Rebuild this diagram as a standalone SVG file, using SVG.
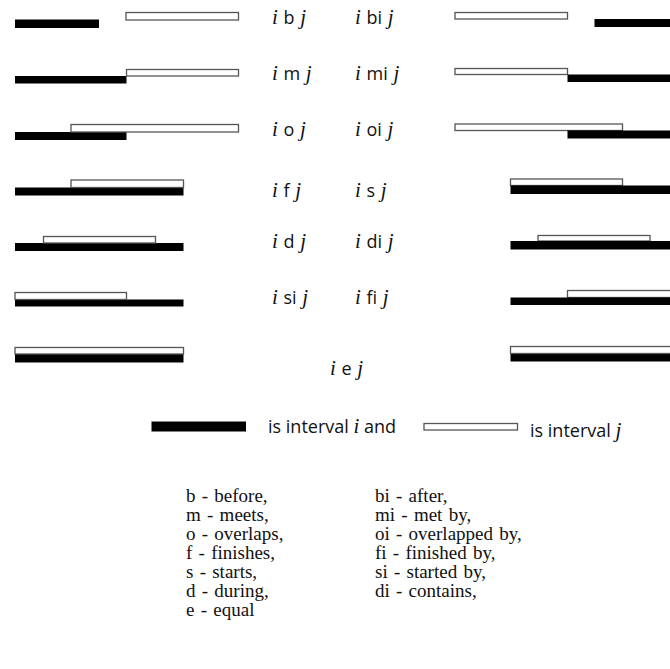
<svg xmlns="http://www.w3.org/2000/svg" width="670" height="669" viewBox="0 0 670 669">
<style>
.i{fill:#000}
.j{fill:#fff;stroke:#555;stroke-width:1.3}
.lab{font-family:"Open Sans","Liberation Sans",sans-serif;font-size:18px;fill:#111;word-spacing:1px}
.it{font-family:"Liberation Serif",serif;font-style:italic;font-size:21px}
.leg{font-family:"Liberation Serif",serif;font-size:19px;fill:#111;word-spacing:1.5px}
</style>
<rect width="670" height="669" fill="#fff"/>
<g id="rel-b">
<rect class="i" x="15" y="19.5" width="84" height="8.5"/>
<rect class="j" x="126" y="12.5" width="112.5" height="7.5"/>
<text class="lab" x="272" y="24"><tspan class="it">i</tspan> b <tspan class="it">j</tspan></text>
</g>
<g id="rel-m">
<rect class="i" x="15" y="76" width="111.5" height="7.5"/>
<rect class="j" x="126.5" y="69.5" width="112" height="6.5"/>
<text class="lab" x="272" y="80"><tspan class="it">i</tspan> m <tspan class="it">j</tspan></text>
</g>
<g id="rel-o">
<rect class="i" x="15" y="132" width="111.5" height="8"/>
<rect class="j" x="71" y="124.5" width="167.5" height="7.5"/>
<text class="lab" x="272" y="136"><tspan class="it">i</tspan> o <tspan class="it">j</tspan></text>
</g>
<g id="rel-f">
<rect class="i" x="15" y="187.5" width="168.5" height="8"/>
<rect class="j" x="71" y="180" width="112.5" height="7.5"/>
<text class="lab" x="272" y="197"><tspan class="it">i</tspan> f <tspan class="it">j</tspan></text>
</g>
<g id="rel-d">
<rect class="i" x="15" y="243" width="168.5" height="8"/>
<rect class="j" x="43.5" y="236.5" width="112" height="6.5"/>
<text class="lab" x="272" y="248"><tspan class="it">i</tspan> d <tspan class="it">j</tspan></text>
</g>
<g id="rel-si">
<rect class="i" x="15" y="299.5" width="168.5" height="7"/>
<rect class="j" x="15" y="292.5" width="111.5" height="7"/>
<text class="lab" x="272" y="304"><tspan class="it">i</tspan> si <tspan class="it">j</tspan></text>
</g>
<g id="rel-e">
<rect class="i" x="15" y="354" width="168.5" height="8.5"/>
<rect class="j" x="15" y="347.5" width="168.5" height="6.5"/>
<rect class="i" x="510.5" y="353.5" width="170" height="8"/>
<rect class="j" x="510.5" y="346.5" width="170" height="7"/>
<text class="lab" x="330" y="375"><tspan class="it">i</tspan> e <tspan class="it">j</tspan></text>
</g>
<g id="rel-bi">
<rect class="j" x="455" y="12.5" width="112.5" height="6.5"/>
<rect class="i" x="594.5" y="19" width="86" height="8"/>
<text class="lab" x="355" y="24"><tspan class="it">i</tspan> bi <tspan class="it">j</tspan></text>
</g>
<g id="rel-mi">
<rect class="j" x="455" y="68.5" width="112.5" height="6"/>
<rect class="i" x="567.5" y="74.5" width="113" height="7.5"/>
<text class="lab" x="355" y="80"><tspan class="it">i</tspan> mi <tspan class="it">j</tspan></text>
</g>
<g id="rel-oi">
<rect class="j" x="455" y="124" width="167.5" height="6.5"/>
<rect class="i" x="567.5" y="130.5" width="113" height="8"/>
<text class="lab" x="355" y="136"><tspan class="it">i</tspan> oi <tspan class="it">j</tspan></text>
</g>
<g id="rel-s">
<rect class="j" x="510.5" y="179" width="112" height="6.5"/>
<rect class="i" x="510.5" y="185.5" width="170" height="8.5"/>
<text class="lab" x="355" y="197"><tspan class="it">i</tspan> s <tspan class="it">j</tspan></text>
</g>
<g id="rel-di">
<rect class="j" x="538" y="235.5" width="112" height="5.5"/>
<rect class="i" x="510.5" y="241" width="170" height="8.5"/>
<text class="lab" x="355" y="248"><tspan class="it">i</tspan> di <tspan class="it">j</tspan></text>
</g>
<g id="rel-fi">
<rect class="j" x="567.5" y="290.5" width="113" height="7"/>
<rect class="i" x="510.5" y="297.5" width="170" height="7.5"/>
<text class="lab" x="355" y="304"><tspan class="it">i</tspan> fi <tspan class="it">j</tspan></text>
</g>
<g id="legend-key">
<rect class="i" x="151.5" y="421.5" width="94.5" height="10"/>
<text class="lab" x="268" y="433" font-size="19" style="word-spacing:0">is interval <tspan class="it">i</tspan> and</text>
<rect class="j" x="424" y="423.5" width="93.5" height="6.5"/>
<text class="lab" x="530" y="437" font-size="20" style="word-spacing:0">is interval <tspan class="it" font-size="23">j</tspan></text>
</g>
<g id="legend-text" class="leg">
<text x="186" y="502">b - before,</text>
<text x="186" y="521">m - meets,</text>
<text x="186" y="540">o - overlaps,</text>
<text x="186" y="559">f - finishes,</text>
<text x="186" y="578">s - starts,</text>
<text x="186" y="597">d - during,</text>
<text x="186" y="616">e - equal</text>
<text x="375" y="502">bi - after,</text>
<text x="375" y="521">mi - met by,</text>
<text x="375" y="540">oi - overlapped by,</text>
<text x="375" y="559">fi - finished by,</text>
<text x="375" y="578">si - started by,</text>
<text x="375" y="597">di - contains,</text>
</g>
</svg>
